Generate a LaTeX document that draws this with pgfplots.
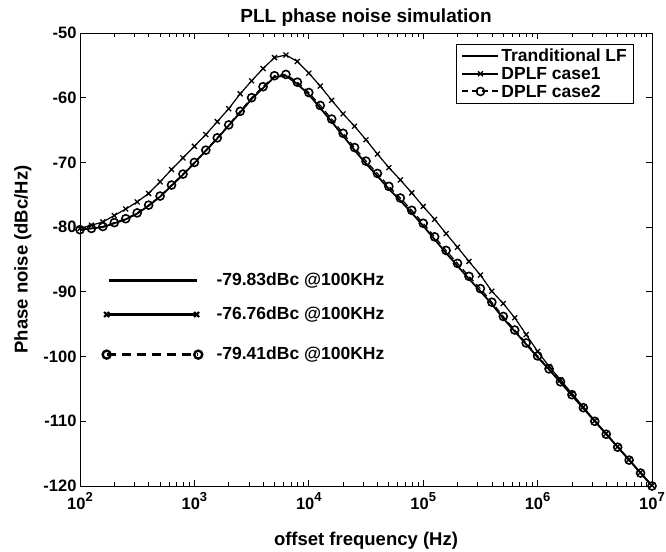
\documentclass[border=0pt]{standalone}
\usepackage{fontspec}
\setmainfont{Liberation Sans}
\usepackage{pgfplots}
\usepackage{pgfplotstable}
\pgfplotsset{compat=1.18}

\pgfplotstableread{
f         case1   case2   trad
1.0000e2  -80.2   -80.4   -80.4
1.2589e2  -79.7   -80.2   -80.2
1.5849e2  -79.2   -79.9   -80.0
1.9953e2  -78.2   -79.3   -79.4
2.5119e2  -77.2   -78.7   -78.8
3.1623e2  -76.1   -77.8   -77.9
3.9811e2  -74.8   -76.6   -76.7
5.0119e2  -73.0   -75.2   -75.3
6.3096e2  -71.1   -73.5   -73.6
7.9433e2  -69.3   -71.8   -71.9
1.0000e3  -67.5   -70.0   -70.1
1.2589e3  -65.7   -68.1   -68.2
1.5849e3  -63.7   -66.2   -66.3
1.9953e3  -61.7   -64.2   -64.3
2.5119e3  -59.4   -62.1   -62.3
3.1623e3  -57.4   -60.0   -60.2
3.9811e3  -55.5   -58.3   -58.5
5.0119e3  -53.8   -56.6   -56.8
6.3096e3  -53.4   -56.4   -56.6
7.9433e3  -54.4   -57.6   -57.9
1.0000e4  -56.2   -59.2   -59.5
1.2589e4  -58.2   -61.2   -61.6
1.5849e4  -60.4   -63.3   -63.7
1.9953e4  -62.5   -65.5   -65.9
2.5119e4  -64.4   -67.7   -68.1
3.1623e4  -66.5   -69.8   -70.2
3.9811e4  -68.7   -71.7   -72.1
5.0119e4  -70.8   -73.7   -74.1
6.3096e4  -72.7   -75.5   -75.9
7.9433e4  -74.7   -77.4   -77.8
1.0000e5  -76.8   -79.4   -79.8
1.2589e5  -78.8   -81.5   -81.9
1.5849e5  -81.0   -83.6   -84.0
1.9953e5  -83.1   -85.6   -86.0
2.5119e5  -85.3   -87.6   -88.0
3.1623e5  -87.4   -89.5   -89.9
3.9811e5  -89.9   -91.6   -91.9
5.0119e5  -91.8   -93.8   -94.1
6.3096e5  -94.0   -95.9   -96.1
7.9433e5  -96.6   -97.9   -98.1
1.0000e6  -99.2   -99.9   -100.1
1.2589e6  -101.5  -101.9  -102.0
1.5849e6  -103.6  -103.9  -104.0
1.9953e6  -105.7  -105.9  -106.0
2.5119e6  -107.8  -107.9  -108.0
3.1623e6  -109.9  -110.0  -110.0
3.9811e6  -111.9  -112.0  -112.0
5.0119e6  -113.9  -114.0  -114.0
6.3096e6  -115.9  -116.0  -116.0
7.9433e6  -117.9  -118.0  -118.0
1.0000e7  -119.9  -120.0  -120.0
}\pnoise

\newcommand{\dec}[1]{10\raisebox{0.5em}{\fontsize{13}{13}\selectfont\bfseries #1}}

\begin{document}
\begin{tikzpicture}
\begin{axis}[
  scale only axis,
  width=572pt, height=453pt,
  xmode=log,
  xmin=1e2, xmax=1e7,
  ymin=-120, ymax=-50,
  xtick={1e2,1e3,1e4,1e5,1e6,1e7},
  xticklabels={\dec{2},\dec{3},\dec{4},\dec{5},\dec{6},\dec{7}},
  ytick={-120,-110,-100,-90,-80,-70,-60,-50},
  yticklabels={-120,-110,-100,-90,-80,-70,-60,-50},
  tick align=inside,
  xtick pos=both, ytick pos=both,
  major tick length=6pt, minor tick length=4pt,
  axis line style={line width=0.9pt},
  every tick/.style={black, line width=0.8pt},
  ticklabel style={font=\fontsize{16.5}{19}\selectfont\bfseries},
  xticklabel style={yshift=-3pt},
  xlabel={offset frequency (Hz)},
  ylabel={Phase noise (dBc/Hz)},
  label style={font=\fontsize{18.5}{21}\selectfont\bfseries},
  xlabel style={yshift=-15pt},
  ylabel style={yshift=5pt},
  title={PLL phase noise simulation},
  title style={font=\fontsize{19}{22}\selectfont\bfseries, yshift=-3pt},
  legend style={at={(rel axis cs:0.969,0.976)}, anchor=north east,
    font=\fontsize{17.5}{20}\selectfont\bfseries, draw=black, line width=0.8pt,
    row sep=0pt, inner xsep=5pt, inner ysep=3pt},
  legend cell align=left,
  legend image code/.code={\draw[mark repeat=2,mark phase=2,#1,line width=2pt,yshift=0.4pt] plot coordinates {(0pt,0pt) (18pt,0pt) (36pt,0pt)};},
]
\addplot[black, line width=1.8pt] table[x=f, y=trad] {\pnoise};
\addlegendentry{Tranditional LF}
\addplot[black, line width=1.2pt, mark=x, mark size=3.5pt, mark options={solid, line width=1.3pt}] table[x=f, y=case1] {\pnoise};
\addlegendentry{DPLF case1}
\addplot[black, line width=1.2pt, dash pattern=on 6pt off 4pt, mark=o, mark size=4pt, mark options={solid, line width=1.6pt}] table[x=f, y=case2] {\pnoise};
\addlegendentry{DPLF case2}

% annotation samples
\addplot[black, line width=3pt, forget plot] coordinates {(180,-88.2) (1059,-88.2)};
\addplot[black, line width=3pt, mark=x, mark size=3.5pt, mark options={solid, line width=2.2pt}, forget plot] coordinates {(171,-93.5) (1047,-93.5)};
\addplot[black, line width=3pt, dash pattern=on 9pt off 6pt, mark=o, mark size=4pt, mark options={solid, line width=2.4pt}, forget plot] coordinates {(171,-99.7) (1081,-99.7)};
\node[anchor=west, font=\fontsize{17.5}{20}\selectfont\bfseries] at (axis cs:1455,-88.2) {-79.83dBc @100KHz};
\node[anchor=west, font=\fontsize{17.5}{20}\selectfont\bfseries] at (axis cs:1455,-93.5) {-76.76dBc @100KHz};
\node[anchor=west, font=\fontsize{17.5}{20}\selectfont\bfseries] at (axis cs:1455,-99.7) {-79.41dBc @100KHz};
\end{axis}
\pgfresetboundingbox
\path[use as bounding box] (-80pt,-65pt) rectangle (586pt,486pt);
\end{tikzpicture}
\end{document}
